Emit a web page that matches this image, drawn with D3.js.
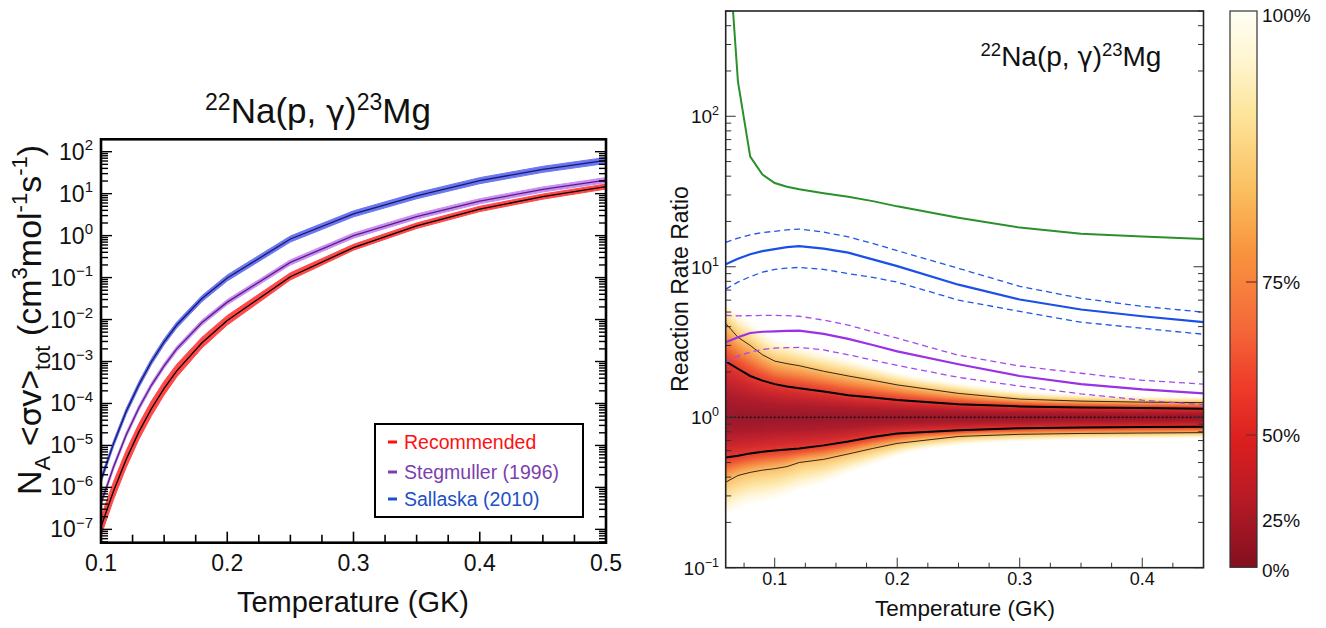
<!DOCTYPE html>
<html><head><meta charset="utf-8">
<script src="https://cdn.jsdelivr.net/npm/d3@7"></script>
<style>body{margin:0;background:#fff}svg{display:block}text{font-family:"Liberation Sans",Arial,Helvetica,sans-serif}.gr{font-family:"DejaVu Sans",sans-serif}</style>
</head><body><svg id="c" width="1326" height="628"></svg>
<script>
// ---------- Left panel data: absolute rates (cm^3 mol^-1 s^-1) ----------
const tempL = [0.1,0.11,0.12,0.13,0.14,0.15,0.16,0.18,0.2,0.25,0.3,0.35,0.4,0.45,0.5];
const recMed  = [1.15e-7,8.3e-7,4.7e-6,2.1e-5,7.6e-5,2.3e-4,6.0e-4,2.8e-3,9.5e-3,0.105,0.52,1.7,4.3,8.5,14.8];
const recLow  = [7.1e-8,5.2e-7,3.0e-6,1.39e-5,5.1e-5,1.59e-4,4.3e-4,2.1e-3,7.4e-3,0.088,0.45,1.48,3.74,7.4,12.9];
const recHigh = [2.0e-7,1.39e-6,7.6e-6,3.3e-5,1.16e-4,3.4e-4,8.6e-4,3.8e-3,1.25e-2,0.130,0.62,2.0,5.0,9.8,17.0];
const stegMed  = [4.2e-7,3.1e-6,1.8e-5,7.8e-5,2.75e-4,7.9e-4,2.0e-3,8.5e-3,0.026,0.23,1.0,2.85,6.6,12.6,21];
const stegLow  = [3.65e-7,2.7e-6,1.57e-5,6.8e-5,2.39e-4,6.87e-4,1.74e-3,7.4e-3,0.0226,0.2,0.87,2.48,5.74,10.96,18.3];
const stegHigh = [4.83e-7,3.57e-6,2.07e-5,8.97e-5,3.16e-4,9.1e-4,2.3e-3,9.78e-3,0.0299,0.265,1.15,3.28,7.59,14.5,24.2];
const sallMed  = [1.5e-6,1.12e-5,6.5e-5,2.8e-4,1.0e-3,2.95e-3,7.4e-3,0.0316,0.098,0.83,3.3,8.9,20.4,38,62];
const sallLow  = [1.27e-6,9.5e-6,5.5e-5,2.37e-4,8.5e-4,2.5e-3,6.27e-3,0.0268,0.083,0.703,2.8,7.54,17.3,32.2,52.5];
const sallHigh = [1.77e-6,1.32e-5,7.67e-5,3.3e-4,1.18e-3,3.48e-3,8.73e-3,0.0373,0.116,0.98,3.89,10.5,24.1,44.8,73.2];
const legendLabels = ["Recommended","Stegmuller (1996)","Sallaska (2010)"];
const xTicksL = [0.1,0.2,0.3,0.4,0.5];
const yExpL = [-7,-6,-5,-4,-3,-2,-1,0,1,2];

// ---------- Right panel data: rate ratios ----------
const tempR = [0.06,0.07,0.08,0.09,0.1,0.11,0.12,0.14,0.16,0.18,0.2,0.25,0.3,0.35,0.4,0.45];
const greenRatio = [2500,170,54,41,36,34,32.7,30.8,29.2,27.3,25.2,21.2,18.2,16.6,15.9,15.3];
const sallRatio   = [10.4,11.3,12.1,12.7,13.1,13.5,13.7,13.2,12.4,11.2,10.1,7.6,6.06,5.2,4.69,4.28];
const sallRatioHi = [14.5,15.5,16.3,16.9,17.2,17.6,17.8,17.0,15.8,14.3,12.8,9.76,7.41,6.17,5.46,4.99];
const sallRatioLo = [7.1,7.9,8.6,9.2,9.6,9.8,9.9,9.6,9.0,8.5,7.9,6.0,5.05,4.28,3.9,3.56];
const stegRatio   = [3.15,3.4,3.63,3.7,3.72,3.75,3.76,3.58,3.32,3.02,2.74,2.25,1.88,1.66,1.53,1.44];
const stegRatioHi = [4.75,4.72,4.73,4.75,4.75,4.73,4.69,4.42,4.1,3.7,3.35,2.58,2.19,1.96,1.76,1.66];
const stegRatioLo = [2.32,2.55,2.71,2.82,2.88,2.9,2.91,2.8,2.6,2.4,2.21,1.84,1.61,1.43,1.30,1.21];
const recMedRatio = [1,1,1,1,1,1,1,1,1,1,1,1,1,1,1,1];
const rec1Hi = [2.35,2.1,1.88,1.75,1.66,1.6,1.56,1.48,1.40,1.35,1.30,1.22,1.18,1.16,1.15,1.14];
const rec1Lo = [0.54,0.555,0.575,0.59,0.60,0.61,0.62,0.65,0.69,0.74,0.78,0.82,0.845,0.855,0.86,0.865];
const rec2Hi = [4.2,3.4,3.0,2.6,2.36,2.27,2.2,2.02,1.88,1.76,1.64,1.44,1.32,1.28,1.26,1.25];
const rec2Lo = [0.37,0.41,0.43,0.445,0.455,0.47,0.50,0.525,0.57,0.62,0.67,0.745,0.77,0.78,0.785,0.79];
const recOutHi = [6.0,5.0,4.4,3.8,3.4,3.2,3.0,2.7,2.45,2.2,2.0,1.7,1.5,1.42,1.38,1.36];
const recOutLo = [0.22,0.24,0.26,0.27,0.28,0.30,0.32,0.36,0.42,0.48,0.55,0.65,0.69,0.71,0.72,0.73];
const xTicksR = [0.1,0.2,0.3,0.4];
const yExpR = [-1,0,1,2];
const cbValues = [0,25,50,75,100];
const cbLabels = ["0%","25%","50%","75%","100%"];

const svg = d3.select("#c");
const defs = svg.append("defs");

function powLabel(g, x, y, exp, fs, sfs, anchor){
  const t = g.append("text").attr("x",x).attr("y",y).attr("text-anchor",anchor||"end")
    .attr("font-size",fs).attr("fill","#111");
  t.append("tspan").text("10");
  t.append("tspan").attr("font-size",sfs).attr("dy",-fs*0.42).text(String(exp).replace("-","\u2212"));
  return t;
}
function reactionTitle(g, x, y, fs, sfs, up){
  const t = g.append("text").attr("x",x).attr("y",y).attr("text-anchor","middle").attr("font-size",fs).attr("fill","#111");
  t.append("tspan").attr("font-size",sfs).attr("dy",-up).text("22");
  t.append("tspan").attr("dy",up).text("Na(p, ");
  t.append("tspan").attr("class","gr").attr("font-size",fs*0.92).text("\u03b3");
  t.append("tspan").text(")");
  t.append("tspan").attr("font-size",sfs).attr("dy",-up).text("23");
  t.append("tspan").attr("dy",up).text("Mg");
}

// ================= LEFT PANEL =================
const L = {l:101,r:606,t:139.3,b:542.7};
const xL = d3.scaleLinear([0.1,0.5],[L.l,L.r]);
const yL = d3.scaleLog([Math.pow(10,-7.318),Math.pow(10,2.2955)],[L.b,L.t]);
const gL = svg.append("g");
defs.append("clipPath").attr("id","clipL").append("rect")
  .attr("x",L.l).attr("y",L.t).attr("width",L.r-L.l).attr("height",L.b-L.t);

const series = [
  {med:sallMed, lo:sallLow, hi:sallHigh, band:"#6a76f0", line:"#18186e"},
  {med:stegMed, lo:stegLow, hi:stegHigh, band:"#c88ef2", line:"#5a1c86"},
  {med:recMed,  lo:recLow,  hi:recHigh,  band:"#ff4848", line:"#000000"}
];
const gc = gL.append("g").attr("clip-path","url(#clipL)");
series.forEach(s=>{
  const area = d3.area().x((d,i)=>xL(tempL[i])).y0((d,i)=>yL(s.lo[i])).y1((d,i)=>yL(s.hi[i]));
  gc.append("path").datum(tempL).attr("d",area).attr("fill",s.band).attr("stroke",s.band).attr("stroke-width",1).attr("stroke-linejoin","round");
});
series.forEach(s=>{
  const line = d3.line().x((d,i)=>xL(tempL[i])).y((d,i)=>yL(s.med[i]));
  gc.append("path").datum(tempL).attr("d",line).attr("fill","none").attr("stroke",s.line).attr("stroke-width",1.3);
});

// ticks
const tk = gL.append("g").attr("stroke","#000");
d3.range(0.1,0.5001,0.025).forEach(v=>{
  const major = xTicksL.some(m=>Math.abs(m-v)<1e-6);
  if (Math.abs(v-0.1)<1e-6||Math.abs(v-0.5)<1e-6) return;
  tk.append("line").attr("x1",xL(v)).attr("x2",xL(v)).attr("y1",L.b).attr("y2",L.b-(major?11:8)).attr("stroke-width",1.6);
});
const [yl0,yl1] = yL.domain();
for(let e=-8;e<=2;e++){ for(let m=1;m<=9;m++){
  const v = m*Math.pow(10,e); if(v<yl0||v>yl1) continue;
  const len = m===1?11:7;
  tk.append("line").attr("x1",L.l).attr("x2",L.l+len).attr("y1",yL(v)).attr("y2",yL(v)).attr("stroke-width",1.4);
  tk.append("line").attr("x1",L.r).attr("x2",L.r-len).attr("y1",yL(v)).attr("y2",yL(v)).attr("stroke-width",1.4);
}}
gL.append("rect").attr("x",L.l).attr("y",L.t).attr("width",L.r-L.l).attr("height",L.b-L.t)
  .attr("fill","none").attr("stroke","#000").attr("stroke-width",2.6);

// tick labels
xTicksL.forEach(v=>{
  gL.append("text").attr("x",xL(v)).attr("y",571).attr("text-anchor","middle").attr("font-size",23)
    .attr("fill","#111").text(d3.format(".1f")(v));
});
yExpL.forEach(e=>{ powLabel(gL, 93, yL(Math.pow(10,e))+8, e, 23, 15); });

// titles
reactionTitle(gL, 318, 123, 35, 23, 13);

gL.append("text").attr("x",353).attr("y",612).attr("text-anchor","middle").attr("font-size",29).attr("fill","#111").text("Temperature (GK)");

const yt = gL.append("text").attr("transform","translate(41,320) rotate(-90)").attr("text-anchor","middle").attr("font-size",34).attr("fill","#111");
yt.append("tspan").text("N");
yt.append("tspan").attr("font-size",22).attr("dy",9).text("A");
yt.append("tspan").attr("dy",-9).text(" <");
yt.append("tspan").attr("class","gr").attr("font-size",31).text("\u03c3");
yt.append("tspan").text("v>");
yt.append("tspan").attr("font-size",22).attr("dy",9).text("tot");
yt.append("tspan").attr("dy",-9).text(" (cm");
yt.append("tspan").attr("font-size",22).attr("dy",-14).text("3");
yt.append("tspan").attr("dy",14).text("mol");
yt.append("tspan").attr("font-size",22).attr("dy",-14).text("-1");
yt.append("tspan").attr("dy",14).text("s");
yt.append("tspan").attr("font-size",22).attr("dy",-14).text("-1");
yt.append("tspan").attr("dy",14).text(")");

// legend
gL.append("rect").attr("x",375).attr("y",424).attr("width",208).attr("height",93).attr("fill","#fff").attr("stroke","#000").attr("stroke-width",2);
const legCols = ["#ff1010","#7b3fb0","#2050c8"];
const legY = [442,472,499];
legendLabels.forEach((lab,i)=>{
  gL.append("line").attr("x1",388).attr("x2",397).attr("y1",legY[i]).attr("y2",legY[i]).attr("stroke",legCols[i]).attr("stroke-width",3);
  gL.append("text").attr("x",404).attr("y",legY[i]+7).attr("font-size",19.5).attr("fill",legCols[i]).text(lab);
});

// ================= RIGHT PANEL =================
const R = {l:725.7,r:1203.5,t:11,b:567.7};
const xR = d3.scaleLinear([0.06,0.45],[R.l,R.r]);
const yR = d3.scaleLog([0.1,500.8],[R.b,R.t]);
const gR = svg.append("g");
defs.append("clipPath").attr("id","clipR").append("rect")
  .attr("x",R.l).attr("y",R.t).attr("width",R.r-R.l).attr("height",R.b-R.t);
const gd = gR.append("g").attr("clip-path","url(#clipR)");

const dens = d3.scaleLinear()
  .domain([0,0.4,0.8,1.0,1.3,1.6,2.0,2.4,2.7,3.0])
  .range(["#941a2c","#ae1c2c","#d22a2e","#e23a30","#ef5a36","#f58a45","#fabf6a","#fde3a0","#fff5d6","#ffffff"]);
function lev(i,s,hi){
  const arr = hi ? [recMedRatio[i],rec1Hi[i],rec2Hi[i],recOutHi[i]] : [recMedRatio[i],rec1Lo[i],rec2Lo[i],recOutLo[i]];
  const k = Math.min(2,Math.floor(s)), f = s-k;
  return Math.exp(Math.log(arr[k])*(1-f)+Math.log(arr[k+1])*f);
}
d3.range(3.0,0.02,-0.05).forEach(s=>{
  const area = d3.area().x((d,i)=>xR(tempR[i])).y0((d,i)=>yR(lev(i,s,false))).y1((d,i)=>yR(lev(i,s,true))).curve(d3.curveMonotoneX);
  gd.append("path").datum(tempR).attr("d",area).attr("fill",dens(s)).attr("stroke",dens(s)).attr("stroke-width",0.6);
});

function rline(arr, color, w, dash){
  const line = d3.line().x((d,i)=>xR(tempR[i])).y((d,i)=>yR(arr[i]));
  const p = gd.append("path").datum(tempR).attr("d",line).attr("fill","none").attr("stroke",color).attr("stroke-width",w);
  if(dash) p.attr("stroke-dasharray",dash);
}
rline(recMedRatio,"#000",1.2,"2,2");
rline(rec2Hi,"#000",0.8); rline(rec2Lo,"#000",0.8);
rline(rec1Hi,"#000",2); rline(rec1Lo,"#000",2);
rline(stegRatioHi,"#a449f0",1.3,"6,4"); rline(stegRatioLo,"#a449f0",1.3,"6,4");
rline(stegRatio,"#9b30e6",2.2);
rline(sallRatioHi,"#1f55e8",1.3,"6,4"); rline(sallRatioLo,"#1f55e8",1.3,"6,4");
rline(sallRatio,"#1a4fe8",2.2);
rline(greenRatio,"#2a912a",2);

// ticks right
const tkR = gR.append("g").attr("stroke","#333");
d3.range(0.075,0.4501,0.025).forEach(v=>{
  const major = xTicksR.some(m=>Math.abs(m-v)<1e-6);
  if (Math.abs(v-0.45)<1e-6) return;
  tkR.append("line").attr("x1",xR(v)).attr("x2",xR(v)).attr("y1",R.b).attr("y2",R.b-(major?10:5)).attr("stroke-width",1);
});
for(let e=-1;e<=2;e++){ for(let m=1;m<=9;m++){
  const v = m*Math.pow(10,e); if(v<0.1||v>500.8) continue;
  const len = m===1?10:5.5;
  tkR.append("line").attr("x1",R.l).attr("x2",R.l+len).attr("y1",yR(v)).attr("y2",yR(v)).attr("stroke-width",1);
  tkR.append("line").attr("x1",R.r).attr("x2",R.r-len).attr("y1",yR(v)).attr("y2",yR(v)).attr("stroke-width",1);
}}
gR.append("rect").attr("x",R.l).attr("y",R.t).attr("width",R.r-R.l).attr("height",R.b-R.t)
  .attr("fill","none").attr("stroke","#222").attr("stroke-width",1.6);

xTicksR.forEach(v=>{
  gR.append("text").attr("x",xR(v)).attr("y",585).attr("text-anchor","middle").attr("font-size",18).attr("fill","#111").text(d3.format(".1f")(v));
});
yExpR.forEach(e=>{ powLabel(gR, 719, yR(Math.pow(10,e))+7, e, 19, 12.5); });

reactionTitle(gR, 1071, 66, 28, 18.5, 10);

gR.append("text").attr("x",965).attr("y",616).attr("text-anchor","middle").attr("font-size",22.5).attr("fill","#111").text("Temperature (GK)");
gR.append("text").attr("transform","translate(688,289) rotate(-90)").attr("text-anchor","middle").attr("font-size",23).attr("fill","#111").text("Reaction Rate Ratio");

// colorbar
const CB = {l:1230,r:1257,t:11,b:567.3};
const cbScale = d3.scaleLinear().domain(cbValues).range([CB.b,520,435,282,CB.t]);
const grad = defs.append("linearGradient").attr("id","cbg").attr("x1",0).attr("y1",0).attr("x2",0).attr("y2",1);
const cbStops = [[11,"#fffef5"],[60,"#fff6d0"],[115,"#fde49a"],[190,"#fbbf60"],[249,"#f8963f"],[325,"#f56a3a"],[383,"#ef3e2a"],[440,"#db1f1f"],[498,"#b81a25"],[567,"#82101f"]];
cbStops.forEach(([y,c])=>grad.append("stop").attr("offset",(y-CB.t)/(CB.b-CB.t)).attr("stop-color",c));
gR.append("rect").attr("x",CB.l).attr("y",CB.t).attr("width",CB.r-CB.l).attr("height",CB.b-CB.t)
  .attr("fill","url(#cbg)").attr("stroke","#333").attr("stroke-width",1.2);
cbValues.forEach((v,i)=>{
  if(v>0&&v<100) gR.append("line").attr("x1",CB.r-11).attr("x2",CB.r).attr("y1",cbScale(v)).attr("y2",cbScale(v)).attr("stroke","#7a2a2a").attr("stroke-width",1.2);
  const yy = v===100 ? 22 : (v===0 ? 577 : cbScale(v)+7);
  gR.append("text").attr("x",1262).attr("y",yy).attr("font-size",19).attr("fill","#111").text(cbLabels[i]);
});
</script></body></html>
